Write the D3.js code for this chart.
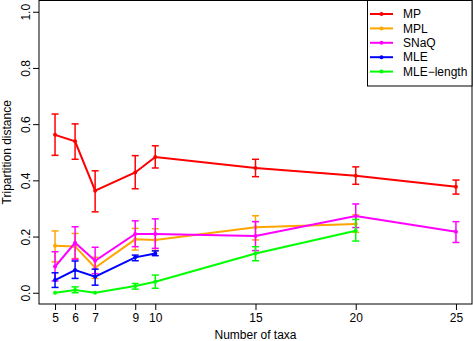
<!DOCTYPE html>
<html>
<head>
<meta charset="utf-8">
<script src="https://cdn.jsdelivr.net/npm/d3@7"></script>
<style>
  body { margin: 0; background: #fff; }
  svg { display: block; font-family: "Liberation Sans", Arial, sans-serif; }
</style>
</head>
<body>
<div id="chart"></div>
<script>
// Series names and colours
const seriesNames = ["MP", "MPL", "SNaQ", "MLE", "MLE\u2212length"];
const seriesColors = ["#ff0000", "#ffa500", "#ff00ff", "#0000ff", "#00ff00"];

// Number of taxa per series
const mpTaxa = [5, 6, 7, 9, 10, 15, 20, 25];
const mplTaxa = [5, 6, 7, 9, 10, 15, 20];
const snaqTaxa = [5, 6, 7, 9, 10, 15, 20, 25];
const mleTaxa = [5, 6, 7, 9, 10];
const mleLenTaxa = [5, 6, 7, 9, 10, 15, 20];

// Mean tripartition distance, with lower / upper error bar ends
const mpMean = [0.562, 0.539, 0.363, 0.428, 0.483, 0.444, 0.416, 0.377];
const mpLow = [0.489, 0.475, 0.288, 0.370, 0.444, 0.413, 0.386, 0.351];
const mpHigh = [0.636, 0.601, 0.434, 0.488, 0.523, 0.475, 0.448, 0.401];

const mplMean = [0.167, 0.165, 0.089, 0.190, 0.188, 0.233, 0.245];
const mplLow = [0.110, 0.122, 0.051, 0.152, 0.150, 0.188, 0.215];
const mplHigh = [0.220, 0.211, 0.126, 0.229, 0.228, 0.274, 0.277];

const snaqMean = [0.093, 0.178, 0.114, 0.209, 0.209, 0.202, 0.273, 0.217];
const snaqLow = [0.042, 0.119, 0.068, 0.164, 0.158, 0.150, 0.232, 0.179];
const snaqHigh = [0.146, 0.235, 0.162, 0.256, 0.263, 0.253, 0.316, 0.253];

const mleMean = [0.045, 0.081, 0.057, 0.126, 0.140];
const mleLow = [0.019, 0.051, 0.027, 0.114, 0.132];
const mleHigh = [0.071, 0.113, 0.084, 0.134, 0.149];

const mleLenMean = [0.000, 0.010, 0.000, 0.024, 0.039, 0.140, 0.221];
const mleLenLow = [0.000, 0.000, 0.000, 0.013, 0.016, 0.114, 0.184];
const mleLenHigh = [0.000, 0.021, 0.000, 0.033, 0.063, 0.164, 0.261];

// Axis ticks
const xTicks = [5, 6, 7, 9, 10, 15, 20, 25];
const yTicks = [0, 0.2, 0.4, 0.6, 0.8, 1.0];

const allSeries = [
    { x: mpTaxa, m: mpMean, lo: mpLow, hi: mpHigh },
    { x: mplTaxa, m: mplMean, lo: mplLow, hi: mplHigh },
    { x: snaqTaxa, m: snaqMean, lo: snaqLow, hi: snaqHigh },
    { x: mleTaxa, m: mleMean, lo: mleLow, hi: mleHigh },
    { x: mleLenTaxa, m: mleLenMean, lo: mleLenLow, hi: mleLenHigh }
].map((s, i) => ({
    name: seriesNames[i],
    color: seriesColors[i],
    points: s.x.map((x, j) => ({ x, m: s.m[j], lo: s.lo[j], hi: s.hi[j] }))
}));

const W = 473, H = 341;
const plot = { left: 39, right: 472, top: 0.5, bottom: 304 };

const svg = d3.select("#chart").append("svg")
    .attr("width", W).attr("height", H);

// R style: 4% padding on each side
const x = d3.scaleLinear().domain([4.2, 25.8]).range([plot.left, plot.right]);
const y = d3.scaleLinear().domain([-0.04, 1.04]).range([plot.bottom, plot.top]);

// Plot box
svg.append("rect")
    .attr("x", plot.left).attr("y", plot.top)
    .attr("width", plot.right - plot.left).attr("height", plot.bottom - plot.top)
    .attr("fill", "none").attr("stroke", "#000").attr("stroke-width", 1);

// X axis
const xAxis = svg.append("g")
    .attr("transform", `translate(0,${plot.bottom})`)
    .call(d3.axisBottom(x).tickValues(xTicks).tickSize(6).tickPadding(3).tickFormat(d3.format("d")));
xAxis.select(".domain").remove();
xAxis.selectAll("text").attr("font-size", 12).attr("fill", "#000")
    .attr("font-family", "Liberation Sans, Arial, sans-serif");

// Y axis
const yAxis = svg.append("g")
    .attr("transform", `translate(${plot.left},0)`)
    .call(d3.axisLeft(y).tickValues(yTicks).tickSize(6).tickFormat(d3.format(".1f")));
yAxis.select(".domain").remove();
yAxis.selectAll("text")
    .attr("font-size", 12).attr("fill", "#000")
    .attr("font-family", "Liberation Sans, Arial, sans-serif")
    .attr("text-anchor", "middle")
    .attr("x", 0).attr("dy", 0)
    .attr("transform", "translate(-9,0) rotate(-90)")
    .attr("y", 0);

// Axis titles
svg.append("text")
    .attr("x", (plot.left + plot.right) / 2).attr("y", 339)
    .attr("text-anchor", "middle").attr("font-size", 12)
    .text("Number of taxa");

svg.append("text")
    .attr("transform", `translate(11,${(plot.top + plot.bottom) / 2}) rotate(-90)`)
    .attr("text-anchor", "middle").attr("font-size", 12)
    .text("Tripartition distance");

const line = d3.line().x(d => x(d.x)).y(d => y(d.m));

// Series
allSeries.forEach(s => {
    const g = svg.append("g");
    g.append("path")
        .datum(s.points)
        .attr("fill", "none")
        .attr("stroke", s.color)
        .attr("stroke-width", 2)
        .attr("d", line);

    const bars = g.selectAll(".err")
        .data(s.points.filter(d => d.hi - d.lo > 0.001))
        .enter().append("g");
    bars.append("line")
        .attr("x1", d => x(d.x)).attr("x2", d => x(d.x))
        .attr("y1", d => y(d.lo)).attr("y2", d => y(d.hi))
        .attr("stroke", s.color).attr("stroke-width", 1.5);
    ["lo", "hi"].forEach(k => {
        bars.append("line")
            .attr("x1", d => x(d.x) - 3.5).attr("x2", d => x(d.x) + 3.5)
            .attr("y1", d => y(d[k])).attr("y2", d => y(d[k]))
            .attr("stroke", s.color).attr("stroke-width", 1.5);
    });

    g.selectAll("circle")
        .data(s.points)
        .enter().append("circle")
        .attr("cx", d => x(d.x)).attr("cy", d => y(d.m))
        .attr("r", 2).attr("fill", s.color);
});

// Legend
const legend = svg.append("g");
legend.append("rect")
    .attr("x", 367.5).attr("y", plot.top)
    .attr("width", plot.right - 367.5).attr("height", 86 - plot.top)
    .attr("fill", "#fff").attr("stroke", "#000");
seriesNames.forEach((name, i) => {
    const ly = 14 + i * 14.4;
    legend.append("line")
        .attr("x1", 370).attr("x2", 393).attr("y1", ly).attr("y2", ly)
        .attr("stroke", seriesColors[i]).attr("stroke-width", 2);
    legend.append("circle")
        .attr("cx", 381.5).attr("cy", ly).attr("r", 2).attr("fill", seriesColors[i]);
    legend.append("text")
        .attr("x", 403).attr("y", ly).attr("dy", "0.35em")
        .attr("font-size", 12).text(name);
});
</script>
</body>
</html>
